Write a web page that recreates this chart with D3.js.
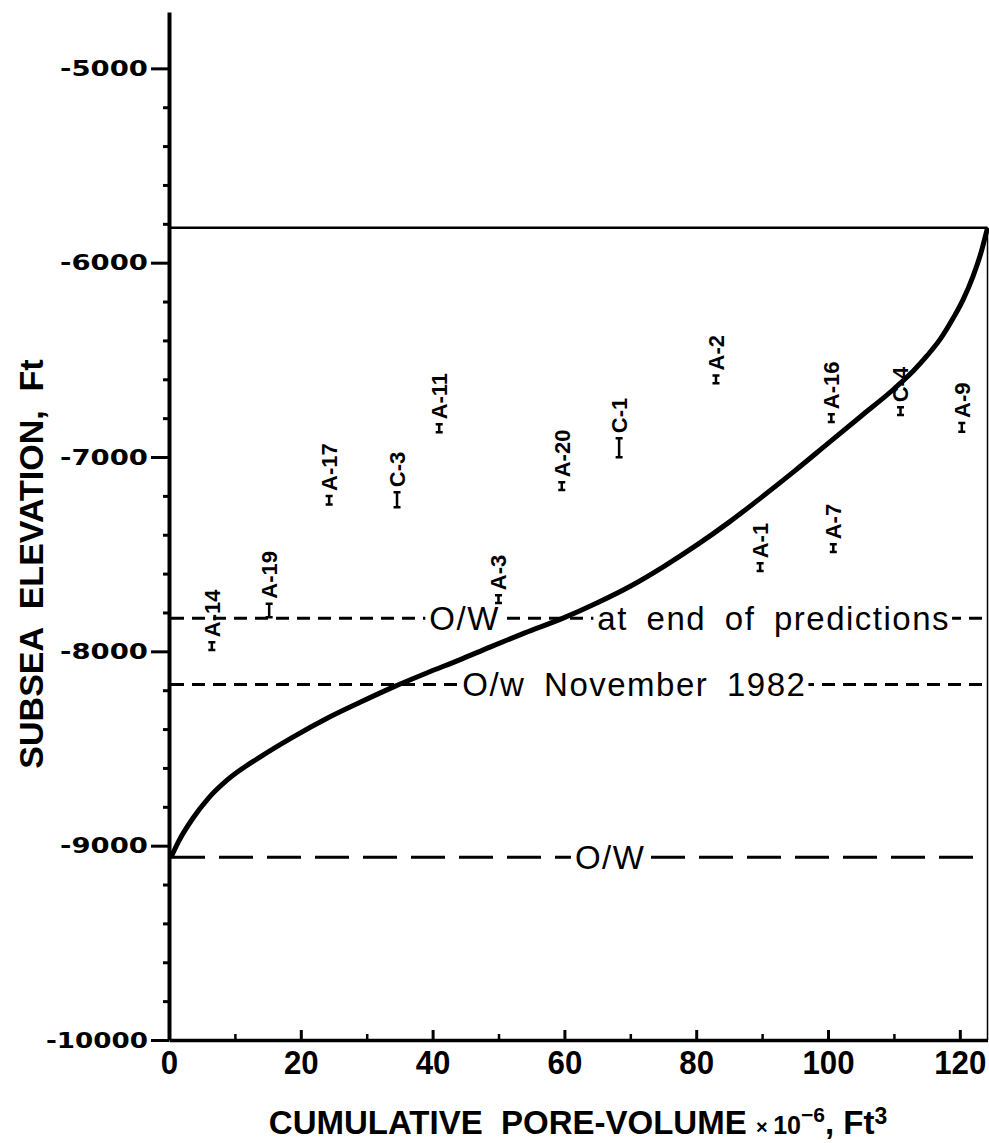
<!DOCTYPE html>
<html>
<head>
<meta charset="utf-8">
<script src="https://cdnjs.cloudflare.com/ajax/libs/d3/7.8.5/d3.min.js"></script>
<style>
  body { margin: 0; background: #fff; }
  svg { display: block; background: #fff; }
  .axis path, .axis line { stroke: #000; }
</style>
</head>
<body>
<script>
// cumulative pore volume (x 10^6 ft3) above each subsea elevation (ft)
var poreVolume = [0.3, 1.5, 3.6, 6, 8.8, 13.8, 18.8, 24, 29, 34, 39.2, 44, 48.7, 54, 59.8,
    65, 70, 75, 80, 85, 90, 95, 100, 105, 110, 113, 115, 117, 119, 120.5, 122, 123.2, 124.2];
var elevation = [-9060, -8975, -8860, -8755, -8663, -8544, -8441, -8344, -8262, -8184, -8110, -8045, -7978, -7905, -7829,
    -7750, -7665, -7565, -7455, -7335, -7205, -7070, -6930, -6790, -6650, -6555, -6480, -6395, -6285, -6190, -6070, -5950, -5820];

// wells: volume position, top and bottom of the bar (ft)
var wellNames = ["A-14", "A-19", "A-17", "C-3", "A-11", "A-3", "A-20", "C-1", "A-2", "A-1", "A-16", "A-7", "C-4", "A-9"];
var wellVolume = [6.5, 15.2, 24.3, 34.6, 41, 50, 59.6, 68.3, 83, 89.7, 100.5, 100.8, 111, 120.3];
var wellTop = [-7953, -7755, -7200, -7181, -6832, -7711, -7130, -6903, -6580, -7547, -6780, -7449, -6744, -6825];
var wellBottom = [-7993, -7825, -7245, -7258, -6872, -7751, -7170, -7001, -6620, -7587, -6820, -7489, -6784, -6870];

// oil/water contacts
var contactElevation = [-7830, -8170, -9060];
var contactText = ["O/W", "at end of predictions", "O/w November 1982", "O/W"];
var contactTextVolume = [39.5, 65, 44.5, 61.6];
var contactTextLine = [0, 0, 1, 2];

var crestElevation = -5820;
var maxVolume = 124.2;

var xTicks = [0, 20, 40, 60, 80, 100, 120];
var xMinorTicks = [10, 30, 50, 70, 90, 110];
var yTicks = [-10000, -9000, -8000, -7000, -6000, -5000];
var yMinorTicks = d3.range(-9800, -4800, 200).filter(function (d) { return d % 1000 !== 0; });

var width = 989, height = 1143;
var margin = { top: 12, right: 1.5, bottom: 103, left: 169 };

var x = d3.scaleLinear()
    .domain([0, maxVolume])
    .range([margin.left, width - margin.right]);

var y = d3.scaleLinear()
    .domain([-10000, -4710])
    .range([height - margin.bottom, margin.top]);

var svg = d3.select("body").append("svg")
    .attr("width", width)
    .attr("height", height);

var boldFont = "'Liberation Sans', Arial, sans-serif";

// crest line and right border
svg.append("line")
    .attr("x1", x(0)).attr("x2", x(maxVolume))
    .attr("y1", y(crestElevation)).attr("y2", y(crestElevation))
    .attr("stroke", "#000").attr("stroke-width", 2.5);
svg.append("line")
    .attr("x1", x(maxVolume)).attr("x2", x(maxVolume))
    .attr("y1", y(crestElevation)).attr("y2", y(-10000))
    .attr("stroke", "#000").attr("stroke-width", 1.5);

// contact lines
var dashes = ["13,8", "13,8", "34,14"];
svg.selectAll(".contact")
    .data(contactElevation)
    .enter().append("line")
    .attr("class", "contact")
    .attr("x1", x(0) + 2).attr("x2", x(maxVolume))
    .attr("y1", function (d) { return y(d); })
    .attr("y2", function (d) { return y(d); })
    .attr("stroke", "#000")
    .attr("stroke-width", 3)
    .attr("stroke-dasharray", function (d, i) { return dashes[i]; });

// white boxes break the dashes under the labels
var labelBg = svg.append("g");
var contactLabels = svg.append("g").selectAll("text")
    .data(contactText)
    .enter().append("text")
    .attr("x", function (d, i) { return x(contactTextVolume[i]); })
    .attr("y", function (d, i) { return y(contactElevation[contactTextLine[i]]); })
    .attr("dy", "0.36em")
    .style("font-family", "'Liberation Sans', Arial, sans-serif")
    .style("font-size", "33px")
    .style("letter-spacing", "1.5px")
    .style("word-spacing", "8px")
    .attr("fill", "#000")
    .text(function (d) { return d; });

contactLabels.each(function () {
    var b = this.getBBox();
    labelBg.append("rect")
        .attr("x", b.x - 4).attr("y", b.y + 6)
        .attr("width", b.width + 6).attr("height", b.height - 12)
        .attr("fill", "#fff");
});

// pore volume curve
var line = d3.line()
    .x(function (d) { return x(d[0]); })
    .y(function (d) { return y(d[1]); })
    .curve(d3.curveMonotoneX);

svg.append("path")
    .datum(d3.zip(poreVolume, elevation))
    .attr("fill", "none")
    .attr("stroke", "#000")
    .attr("stroke-width", 5)
    .attr("d", line);

// wells
var wells = svg.selectAll(".well")
    .data(wellNames)
    .enter().append("g")
    .attr("class", "well");

wells.append("path")
    .attr("d", function (d, i) {
        var cx = x(wellVolume[i]), t = y(wellTop[i]), b = y(wellBottom[i]);
        return "M" + (cx - 3.5) + "," + t + "H" + (cx + 3.5) +
            "M" + cx + "," + t + "V" + b +
            "M" + (cx - 3.5) + "," + b + "H" + (cx + 3.5);
    })
    .attr("stroke", "#000")
    .attr("stroke-width", 2.5)
    .attr("fill", "none");

wells.append("text")
    .attr("transform", function (d, i) {
        return "translate(" + x(wellVolume[i]) + "," + (y(wellTop[i]) - 5) + ") rotate(-90)";
    })
    .attr("dy", "0.36em")
    .style("font-family", "'Liberation Sans', Arial, sans-serif")
    .style("font-weight", "bold")
    .style("font-size", "22px")
    .text(function (d) { return d; });

// x axis
var xAxis = svg.append("g")
    .attr("class", "axis")
    .attr("transform", "translate(0," + y(-10000) + ")")
    .call(d3.axisBottom(x).tickValues(xTicks).tickSize(-10).tickSizeOuter(0).tickPadding(10));
xAxis.select(".domain").attr("stroke-width", 3.5);
xAxis.selectAll(".tick line").attr("stroke-width", 3);
xAxis.selectAll(".tick text")
    .style("font-family", boldFont)
    .style("font-weight", "bold")
    .style("font-size", "34px")
    .attr("transform", "scale(0.92,1)");

svg.append("g")
    .attr("class", "axis")
    .attr("transform", "translate(0," + y(-10000) + ")")
    .call(d3.axisBottom(x).tickValues(xMinorTicks).tickSize(-6).tickFormat(""))
    .call(function (g) { g.select(".domain").remove(); })
    .selectAll(".tick line").attr("stroke-width", 2.5);

// y axis
var yAxis = svg.append("g")
    .attr("class", "axis")
    .attr("transform", "translate(" + x(0) + ",0)")
    .call(d3.axisLeft(y).tickValues(yTicks).tickSize(18).tickSizeOuter(0).tickPadding(3)
        .tickFormat(function (d) { return String(d); }));
yAxis.select(".domain").attr("stroke-width", 4);
yAxis.selectAll(".tick line").attr("stroke-width", 3);
yAxis.selectAll(".tick text")
    .style("font-family", "'DejaVu Sans', sans-serif")
    .style("font-weight", "bold")
    .style("font-size", "22px")
    .attr("textLength", function (d) { return d === -10000 ? 102 : 88; })
    .attr("lengthAdjust", "spacingAndGlyphs");

svg.append("g")
    .attr("class", "axis")
    .attr("transform", "translate(" + x(0) + ",0)")
    .call(d3.axisLeft(y).tickValues(yMinorTicks).tickSize(6).tickFormat(""))
    .call(function (g) { g.select(".domain").remove(); })
    .selectAll(".tick line").attr("stroke-width", 3);

// axis titles
svg.append("text")
    .attr("transform", "translate(31,564) rotate(-90)")
    .attr("dy", "0.36em")
    .style("text-anchor", "middle")
    .style("font-family", boldFont)
    .style("font-weight", "bold")
    .style("font-size", "34px")
    .style("white-space", "pre")
    .text("SUBSEA  ELEVATION,  Ft");

var xTitle = svg.append("text")
    .attr("x", 578)
    .attr("y", 1134)
    .style("text-anchor", "middle")
    .style("font-family", boldFont)
    .style("font-weight", "bold")
    .style("font-size", "33px")
    .style("white-space", "pre");
xTitle.append("tspan").text("CUMULATIVE  PORE-VOLUME ");
xTitle.append("tspan").style("font-size", "20px").text("× ");
xTitle.append("tspan").style("font-size", "25px").text("10");
xTitle.append("tspan").attr("dy", "-12").style("font-size", "21px").text("−6");
xTitle.append("tspan").attr("dy", "12").text(", Ft");
xTitle.append("tspan").attr("dy", "-10").style("font-size", "23px").text("3");
</script>
</body>
</html>
